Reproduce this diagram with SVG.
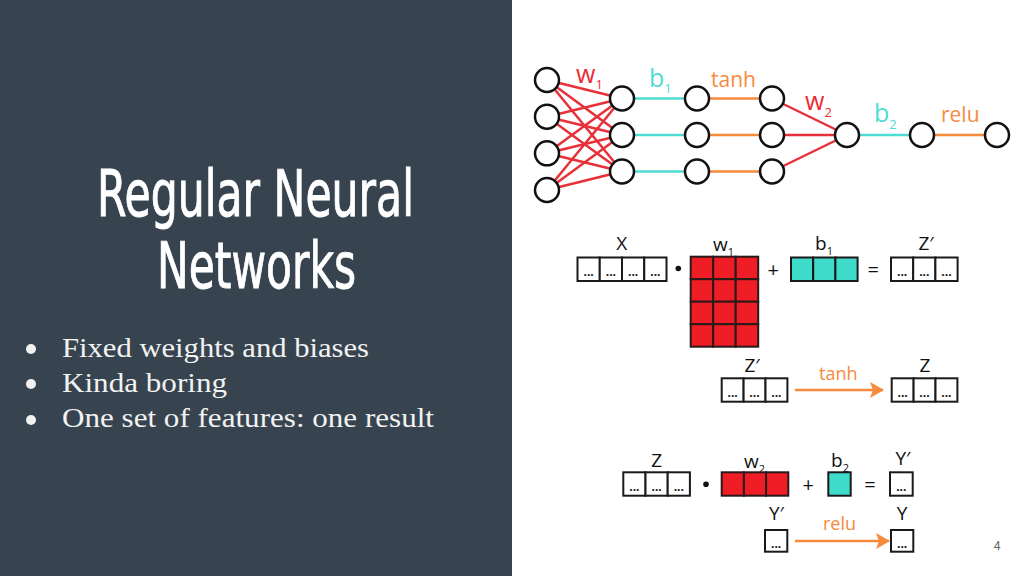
<svg xmlns="http://www.w3.org/2000/svg" width="1024" height="576" viewBox="0 0 1024 576">
<style>
.bg{fill:#ffffff}
.panel{fill:#37444f}
.title{font-family:"DejaVu Sans Condensed","DejaVu Sans",sans-serif;font-stretch:condensed;font-size:64px;fill:#ffffff;stroke:#ffffff;stroke-width:0.9}
.bul{font-family:"Liberation Serif","DejaVu Serif",serif;font-size:28px;fill:#f2f2f2}
.node{fill:#ffffff;stroke:#111111;stroke-width:2.5}
.red{stroke:#e8303a;stroke-width:2.5}
.cyan{stroke:#4fdcd2;stroke-width:2.5}
.org{stroke:#f68b3c;stroke-width:2.5}
.lr{font-family:"Open Sans","Liberation Sans",sans-serif;fill:#ec2a35}
.lc{font-family:"Open Sans","Liberation Sans",sans-serif;fill:#4fdcd2}
.lo{font-family:"Open Sans","Liberation Sans",sans-serif;fill:#f68b3c}
.lk{font-family:"Open Sans","Liberation Sans",sans-serif;fill:#111111;font-size:19px}
.cell{fill:#ffffff;stroke:#1a1a1a;stroke-width:2}
.rcell{fill:#ef1d26;stroke:#2a1a1a;stroke-width:2}
.ccell{fill:#40dccb;stroke:#1a1a1a;stroke-width:2}
.dots{font-family:"Open Sans","Liberation Sans",sans-serif;font-size:12px;font-weight:700;fill:#111111;text-anchor:middle}
.op{font-family:"Open Sans","Liberation Sans",sans-serif;font-size:20px;fill:#111111;text-anchor:middle}
</style>
<defs>
<marker id="arrow" viewBox="0 0 14 16" refX="13" refY="8" markerWidth="14" markerHeight="16" markerUnits="userSpaceOnUse" orient="auto">
<path d="M0,0 L14,8 L0,16 L3,8 Z" fill="#f68b3c"/>
</marker>
</defs>
<rect class="bg" x="0" y="0" width="1024" height="576"/>
<rect class="panel" x="0" y="0" width="512" height="576"/>

<g id="title">
<text class="title" x="97" y="216" textLength="317" lengthAdjust="spacingAndGlyphs">Regular Neural</text>
<text class="title" x="157" y="288" textLength="199" lengthAdjust="spacingAndGlyphs">Networks</text>
</g>
<g id="bullets">
<circle cx="31" cy="349" r="5" fill="#f2f2f2"/>
<circle cx="31" cy="384" r="5" fill="#f2f2f2"/>
<circle cx="31" cy="420" r="5" fill="#f2f2f2"/>
<text class="bul" x="62" y="357" textLength="307" lengthAdjust="spacingAndGlyphs">Fixed weights and biases</text>
<text class="bul" x="62" y="392" textLength="165" lengthAdjust="spacingAndGlyphs">Kinda boring</text>
<text class="bul" x="62" y="427" textLength="372" lengthAdjust="spacingAndGlyphs">One set of features: one result</text>
</g>

<g id="connectors">
<line class="red" x1="547" y1="80" x2="622" y2="98.5"/>
<line class="red" x1="547" y1="80" x2="622" y2="135"/>
<line class="red" x1="547" y1="80" x2="622" y2="171.5"/>
<line class="red" x1="547" y1="116.7" x2="622" y2="98.5"/>
<line class="red" x1="547" y1="116.7" x2="622" y2="135"/>
<line class="red" x1="547" y1="116.7" x2="622" y2="171.5"/>
<line class="red" x1="547" y1="153.3" x2="622" y2="98.5"/>
<line class="red" x1="547" y1="153.3" x2="622" y2="135"/>
<line class="red" x1="547" y1="153.3" x2="622" y2="171.5"/>
<line class="red" x1="547" y1="190" x2="622" y2="98.5"/>
<line class="red" x1="547" y1="190" x2="622" y2="135"/>
<line class="red" x1="547" y1="190" x2="622" y2="171.5"/>
<line class="cyan" x1="622" y1="98.5" x2="697" y2="98.5"/>
<line class="cyan" x1="622" y1="135" x2="697" y2="135"/>
<line class="cyan" x1="622" y1="171.5" x2="697" y2="171.5"/>
<line class="org" x1="697" y1="98.5" x2="772" y2="98.5"/>
<line class="org" x1="697" y1="135" x2="772" y2="135"/>
<line class="org" x1="697" y1="171.5" x2="772" y2="171.5"/>
<line class="red" x1="772" y1="98.5" x2="847" y2="135"/>
<line class="red" x1="772" y1="135" x2="847" y2="135"/>
<line class="red" x1="772" y1="171.5" x2="847" y2="135"/>
<line class="cyan" x1="847" y1="135" x2="922" y2="135"/>
<line class="org" x1="922" y1="135" x2="997" y2="135"/>
<line class="org" x1="795" y1="390" x2="883" y2="390" marker-end="url(#arrow)"/>
<line class="org" x1="795" y1="541" x2="889" y2="541" marker-end="url(#arrow)"/>
</g>

<g id="nodes">
<circle id="in1" class="node" cx="547" cy="80" r="12"/>
<circle id="in2" class="node" cx="547" cy="116.7" r="12"/>
<circle id="in3" class="node" cx="547" cy="153.3" r="12"/>
<circle id="in4" class="node" cx="547" cy="190" r="12"/>
<circle id="h1a" class="node" cx="622" cy="98.5" r="12"/>
<circle id="h1b" class="node" cx="622" cy="135" r="12"/>
<circle id="h1c" class="node" cx="622" cy="171.5" r="12"/>
<circle id="h2a" class="node" cx="697" cy="98.5" r="12"/>
<circle id="h2b" class="node" cx="697" cy="135" r="12"/>
<circle id="h2c" class="node" cx="697" cy="171.5" r="12"/>
<circle id="h3a" class="node" cx="772" cy="98.5" r="12"/>
<circle id="h3b" class="node" cx="772" cy="135" r="12"/>
<circle id="h3c" class="node" cx="772" cy="171.5" r="12"/>
<circle id="o1" class="node" cx="847" cy="135" r="12"/>
<circle id="o2" class="node" cx="922" cy="135" r="12"/>
<circle id="o3" class="node" cx="997" cy="135" r="12"/>
</g>

<g id="net-labels">
<text class="lr" x="576" y="83" font-size="25">w<tspan font-size="13" dy="6">1</tspan></text>
<text class="lc" x="649" y="87" font-size="25">b<tspan font-size="13" dy="6">1</tspan></text>
<text class="lo" x="711" y="87" font-size="21">tanh</text>
<text class="lr" x="805" y="110" font-size="25">w<tspan font-size="13" dy="7">2</tspan></text>
<text class="lc" x="874" y="122" font-size="25">b<tspan font-size="13" dy="7">2</tspan></text>
<text class="lo" x="941" y="122" font-size="21">relu</text>
</g>

<g id="eq1">
<text class="lk" x="621.7" y="250" text-anchor="middle">X</text>
<rect class="cell" x="577.5" y="257.5" width="22.25" height="23.5"/>
<rect class="cell" x="599.75" y="257.5" width="22.25" height="23.5"/>
<rect class="cell" x="622" y="257.5" width="22.25" height="23.5"/>
<rect class="cell" x="644.25" y="257.5" width="22.25" height="23.5"/>
<text class="dots" x="588.6" y="276">...</text>
<text class="dots" x="610.9" y="276">...</text>
<text class="dots" x="633.1" y="276">...</text>
<text class="dots" x="655.4" y="276">...</text>
<circle cx="678.3" cy="268.5" r="2.8" fill="#111111"/>
<text class="lk" x="713" y="251">w<tspan font-size="11" dy="5">1</tspan></text>
<g>
<rect class="rcell" x="690.7" y="256.7" width="22.5" height="22.5"/>
<rect class="rcell" x="713.2" y="256.7" width="22.5" height="22.5"/>
<rect class="rcell" x="735.7" y="256.7" width="22.5" height="22.5"/>
<rect class="rcell" x="690.7" y="279.2" width="22.5" height="22.5"/>
<rect class="rcell" x="713.2" y="279.2" width="22.5" height="22.5"/>
<rect class="rcell" x="735.7" y="279.2" width="22.5" height="22.5"/>
<rect class="rcell" x="690.7" y="301.7" width="22.5" height="22.5"/>
<rect class="rcell" x="713.2" y="301.7" width="22.5" height="22.5"/>
<rect class="rcell" x="735.7" y="301.7" width="22.5" height="22.5"/>
<rect class="rcell" x="690.7" y="324.2" width="22.5" height="22.5"/>
<rect class="rcell" x="713.2" y="324.2" width="22.5" height="22.5"/>
<rect class="rcell" x="735.7" y="324.2" width="22.5" height="22.5"/>
</g>
<text class="op" x="773.3" y="277">+</text>
<text class="lk" x="815" y="250">b<tspan font-size="11" dy="5">1</tspan></text>
<rect class="ccell" x="791" y="257.5" width="22.2" height="23.5"/>
<rect class="ccell" x="813.2" y="257.5" width="22.2" height="23.5"/>
<rect class="ccell" x="835.4" y="257.5" width="22.2" height="23.5"/>
<text class="op" x="873.3" y="277">=</text>
<text class="lk" x="926" y="250" text-anchor="middle">Z′</text>
<rect class="cell" x="891" y="257.5" width="22.2" height="23.5"/>
<rect class="cell" x="913.2" y="257.5" width="22.2" height="23.5"/>
<rect class="cell" x="935.4" y="257.5" width="22.2" height="23.5"/>
<text class="dots" x="902.1" y="276">...</text>
<text class="dots" x="924.3" y="276">...</text>
<text class="dots" x="946.5" y="276">...</text>
</g>

<g id="eq2">
<text class="lk" x="752" y="372" text-anchor="middle">Z′</text>
<rect class="cell" x="721.7" y="378.3" width="21.9" height="23.4"/>
<rect class="cell" x="743.6" y="378.3" width="21.9" height="23.4"/>
<rect class="cell" x="765.5" y="378.3" width="21.9" height="23.4"/>
<text class="dots" x="732.6" y="396.8">...</text>
<text class="dots" x="754.5" y="396.8">...</text>
<text class="dots" x="776.4" y="396.8">...</text>
<text class="lo" x="819" y="380" font-size="18">tanh</text>
<text class="lk" x="925" y="372" text-anchor="middle">Z</text>
<rect class="cell" x="891.7" y="378.3" width="21.9" height="23.4"/>
<rect class="cell" x="913.6" y="378.3" width="21.9" height="23.4"/>
<rect class="cell" x="935.5" y="378.3" width="21.9" height="23.4"/>
<text class="dots" x="902.6" y="396.8">...</text>
<text class="dots" x="924.5" y="396.8">...</text>
<text class="dots" x="946.4" y="396.8">...</text>
</g>

<g id="eq3">
<text class="lk" x="656.7" y="467" text-anchor="middle">Z</text>
<rect class="cell" x="623.3" y="472.3" width="22.2" height="23.4"/>
<rect class="cell" x="645.5" y="472.3" width="22.2" height="23.4"/>
<rect class="cell" x="667.7" y="472.3" width="22.2" height="23.4"/>
<text class="dots" x="634.4" y="490.8">...</text>
<text class="dots" x="656.6" y="490.8">...</text>
<text class="dots" x="678.8" y="490.8">...</text>
<circle cx="706" cy="484.3" r="2.8" fill="#111111"/>
<text class="lk" x="744" y="468">w<tspan font-size="11" dy="5">2</tspan></text>
<rect class="rcell" x="721.7" y="472.3" width="22.2" height="23.4"/>
<rect class="rcell" x="743.9" y="472.3" width="22.2" height="23.4"/>
<rect class="rcell" x="766.1" y="472.3" width="22.2" height="23.4"/>
<text class="op" x="808.3" y="492">+</text>
<text class="lk" x="831" y="467">b<tspan font-size="11" dy="5">2</tspan></text>
<rect class="ccell" x="828.3" y="472.3" width="22.4" height="23.4"/>
<text class="op" x="870" y="492">=</text>
<text class="lk" x="903" y="465" text-anchor="middle">Y′</text>
<rect class="cell" x="890" y="472.3" width="22.7" height="23.4"/>
<text class="dots" x="901.3" y="490.8">...</text>
</g>

<g id="eq4">
<text class="lk" x="776.5" y="520" text-anchor="middle">Y′</text>
<rect class="cell" x="765" y="530" width="22.3" height="21.7"/>
<text class="dots" x="776.1" y="547.5">...</text>
<text class="lo" x="823" y="530" font-size="18">relu</text>
<text class="lk" x="902" y="520" text-anchor="middle">Y</text>
<rect class="cell" x="891" y="530" width="22.3" height="21.7"/>
<text class="dots" x="902.1" y="547.5">...</text>
</g>

<text x="997" y="550" font-family="Roboto, 'Liberation Sans', sans-serif" font-size="12" fill="#666666" text-anchor="middle">4</text>
</svg>
